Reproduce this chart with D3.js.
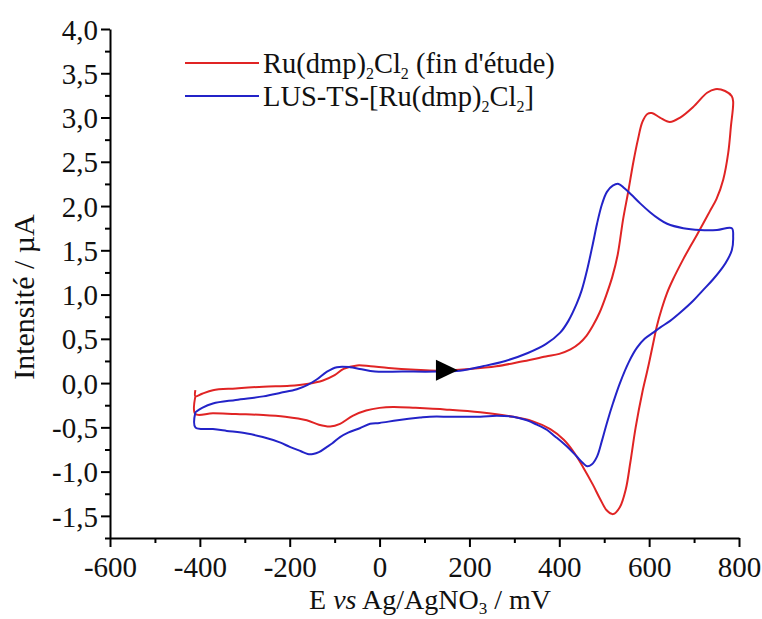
<!DOCTYPE html>
<html><head><meta charset="utf-8">
<script src="https://cdn.jsdelivr.net/npm/d3@7"></script>
<style>body{margin:0;background:#fff} svg{display:block;background:#fff}</style>
</head><body><svg id="c" width="762" height="619"></svg>
<script>
// ---- data ----
const xTicks = [-600,-400,-200,0,200,400,600,800];
const xTickLabels = ["-600","-400","-200","0","200","400","600","800"];
const xMinor = [-500,-300,-100,100,300,500,700];
const yTicks = [-1.5,-1,-0.5,0,0.5,1,1.5,2,2.5,3,3.5,4];
const yTickLabels = ["-1,5","-1,0","-0,5","0,0","0,5","1,0","1,5","2,0","2,5","3,0","3,5","4,0"];
const yMinor = [-1.75,-1.25,-0.75,-0.25,0.25,0.75,1.25,1.75,2.25,2.75,3.25,3.75];

const seriesNames = ["Ru(dmp)2Cl2 (fin d'étude)", "LUS-TS-[Ru(dmp)2Cl2]"];

// Ru(dmp)2Cl2 (fin d'étude) : potential (mV) / current (µA)
const redE = [-410,-410,-395,-371,-320,-259,-200,-162,-126,-100,-80,-50,-20,20,80,130,200,260,313,370,400,425,445,460,475,490,505,518,530,542,553,565,575,585,596,606,624,646,669,698,729,747,769,784,787,
  782,776,765,750,735,720,706,690,676,653,640,628,617,609,602,595,585,570,558,548,535,520,506,490,475,453,431,410,380,340,297,224,150,80,30,0,-30,-60,-88,-110,-135,-162,-210,-259,-320,-371,-410,-410];
const redI = [-0.08,-0.15,-0.12,-0.08,-0.06,-0.04,-0.03,-0.01,0.03,0.09,0.16,0.2,0.19,0.17,0.15,0.14,0.16,0.19,0.24,0.3,0.33,0.38,0.45,0.53,0.65,0.8,1.0,1.2,1.45,1.85,2.15,2.5,2.75,2.95,3.04,3.05,3.0,2.95,3.0,3.12,3.28,3.32,3.3,3.24,3.18,
  2.9,2.6,2.3,2.08,1.94,1.8,1.67,1.53,1.4,1.17,1.02,0.84,0.64,0.45,0.28,0.12,-0.1,-0.5,-0.9,-1.2,-1.4,-1.48,-1.44,-1.3,-1.15,-0.95,-0.77,-0.64,-0.52,-0.43,-0.38,-0.33,-0.3,-0.28,-0.27,-0.28,-0.31,-0.37,-0.46,-0.49,-0.47,-0.42,-0.38,-0.36,-0.35,-0.34,-0.35,-0.15];

// LUS-TS-[Ru(dmp)2Cl2]
const blueE = [-410,-395,-371,-320,-259,-220,-184,-160,-140,-117,-95,-66,-44,-10,50,128,179,230,280,330,370,402,420,439,450,462,475,484,495,506,519,532,545,560,580,602,620,640,676,713,751,784,
  787,784,775,764,742,720,698,670,646,625,609,590,573,555,535,520,506,495,484,472,462,452,439,424,409,390,373,350,328,297,261,224,160,112,90,40,0,-21,-44,-70,-88,-105,-117,-135,-148,-160,-175,-200,-222,-260,-295,-340,-371,-410,-410];
const blueI = [-0.33,-0.28,-0.23,-0.19,-0.15,-0.11,-0.07,-0.02,0.04,0.13,0.18,0.18,0.16,0.13,0.13,0.13,0.14,0.19,0.25,0.34,0.44,0.57,0.7,0.9,1.05,1.28,1.58,1.8,2.02,2.16,2.23,2.25,2.2,2.13,2.03,1.93,1.86,1.8,1.75,1.73,1.73,1.75,
  1.65,1.5,1.4,1.31,1.17,1.05,0.93,0.8,0.7,0.63,0.57,0.5,0.4,0.24,0.0,-0.22,-0.45,-0.65,-0.83,-0.92,-0.94,-0.9,-0.83,-0.75,-0.68,-0.6,-0.53,-0.47,-0.42,-0.38,-0.37,-0.38,-0.38,-0.38,-0.39,-0.42,-0.45,-0.46,-0.51,-0.56,-0.61,-0.68,-0.72,-0.78,-0.8,-0.8,-0.77,-0.72,-0.67,-0.61,-0.57,-0.54,-0.52,-0.5,-0.33];

const arrowE = 150, arrowI = 0.145;

// ---- chart ----
const svg = d3.select("#c");
const FONT = "'Liberation Serif','Times New Roman',serif";
const x = d3.scaleLinear().domain([-600, 800]).range([110, 739]);
const y = d3.scaleLinear().domain([-1.75, 4.0]).range([538, 29]);

const red = "#e02424", blue = "#2323c8";

// axes
const gx = svg.append("g").attr("transform", "translate(0,538)")
  .call(d3.axisBottom(x).tickValues(xTicks).tickFormat((d,i)=>xTickLabels[i]).tickSize(9).tickSizeOuter(0).tickPadding(5));
const gxm = svg.append("g").attr("transform", "translate(0,538)")
  .call(d3.axisBottom(x).tickValues(xMinor).tickFormat("").tickSize(5).tickSizeOuter(0));
const gy = svg.append("g").attr("transform", "translate(110,0)")
  .call(d3.axisLeft(y).tickValues(yTicks).tickFormat((d,i)=>yTickLabels[i]).tickSize(9).tickSizeOuter(0).tickPadding(3));
const gym = svg.append("g").attr("transform", "translate(110,0)")
  .call(d3.axisLeft(y).tickValues(yMinor).tickFormat("").tickSize(5).tickSizeOuter(0));
[gx,gxm,gy,gym].forEach(g=>{
  g.select(".domain").attr("stroke","#000").attr("stroke-width",2);
  g.selectAll(".tick line").attr("stroke","#000").attr("stroke-width",2);
  g.selectAll(".tick text").attr("fill","#111").style("font-family",FONT).style("font-size","29px");
});
gym.select(".domain").remove(); gxm.select(".domain").remove();
gx.selectAll(".tick text").attr("dy","0.85em");
gy.selectAll(".tick text").attr("dy","0.35em");

// curves
const line = d3.line().x(d=>x(d[0])).y(d=>y(d[1])).curve(d3.curveCatmullRom.alpha(0.5));
const redData = redE.map((e,i)=>[e, redI[i]]);
const blueData = blueE.map((e,i)=>[e, blueI[i]]);
svg.append("path").attr("d", line(redData)).attr("fill","none").attr("stroke",red).attr("stroke-width",2);
svg.append("path").attr("d", line(blueData)).attr("fill","none").attr("stroke",blue).attr("stroke-width",2);

// arrow
const ax = x(arrowE), ay = y(arrowI);
svg.append("path").attr("d", `M${ax-11},${ay-10.5}L${ax+11},${ay}L${ax-11},${ay+10.5}Z`).attr("fill","#000");

// legend
function richText(g, parts, size){
  const t = g.append("text").style("font-family",FONT).style("font-size",size+"px").attr("fill","#111");
  let sub = false;
  parts.forEach(p=>{
    const ts = t.append("tspan").text(p[0]);
    if (p[1] && !sub){ ts.attr("dy", 6).style("font-size","16px"); sub = true; }
    else if (!p[1] && sub){ ts.attr("dy", -6); sub = false; }
  });
  return t;
}
const legendParts = [
  [["Ru(dmp)",0],["2",1],["Cl",0],["2",1],[" (fin d'étude)",0]],
  [["LUS-TS-[Ru(dmp)",0],["2",1],["Cl",0],["2",1],["]",0]]
];
const legendColors = [red, blue];
legendParts.forEach((parts,i)=>{
  const g = svg.append("g").attr("transform", `translate(0,${63 + i*33})`);
  g.append("line").attr("x1",185).attr("x2",259).attr("y1",0).attr("y2",0).attr("stroke",legendColors[i]).attr("stroke-width",2);
  richText(g, parts, 28.5).attr("x",263).attr("y",10);
});

// axis titles
const xt = svg.append("text").attr("x",430).attr("y",609).attr("text-anchor","middle")
  .style("font-family",FONT).style("font-size","28px").attr("fill","#111");
xt.append("tspan").text("E ");
xt.append("tspan").text("vs").style("font-style","italic");
xt.append("tspan").text(" Ag/AgNO");
xt.append("tspan").text("3").attr("dy",5).style("font-size","17px");
xt.append("tspan").text(" / mV").attr("dy",-5);

svg.append("text").attr("transform","translate(34,297) rotate(-90)").attr("text-anchor","middle")
  .style("font-family",FONT).style("font-size","30px").attr("fill","#111").text("Intensité / µA");
</script></body></html>
